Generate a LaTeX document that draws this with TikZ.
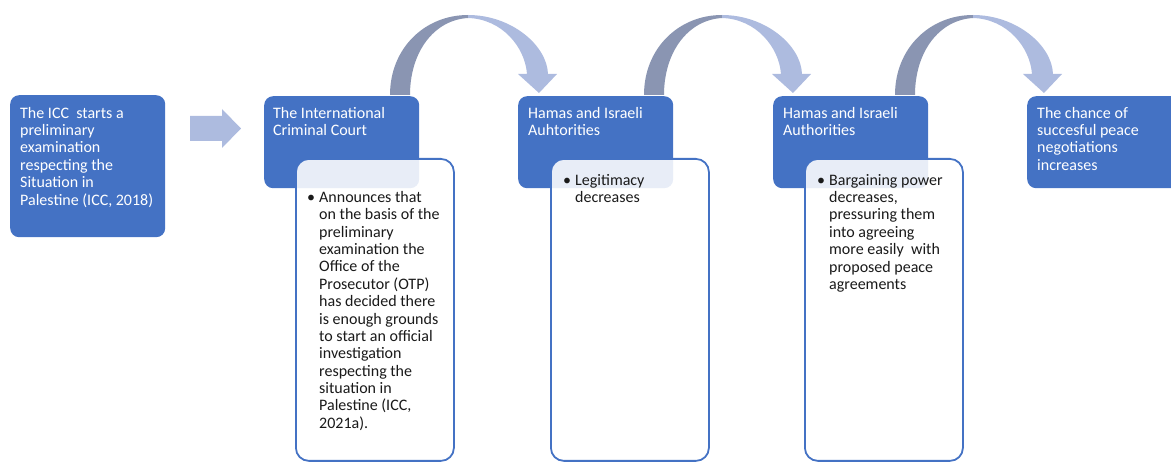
\documentclass[tikz,border=0pt]{standalone}
\usepackage{fontspec}
\setmainfont{Carlito}
\definecolor{boxblue}{HTML}{4472C4}
\definecolor{arrlight}{HTML}{ADBBDF}
\definecolor{arrdark}{HTML}{8A95B2}
\definecolor{bodytext}{HTML}{1A1A1A}
\newcommand{\firstln}{\rule{0pt}{12pt}}
\tikzset{
  hdr/.style={fill=boxblue, draw=none, rounded corners=9pt, anchor=north west,
    minimum width=155pt, minimum height=92pt, inner sep=0pt},
  bodybox/.style={draw=boxblue, line width=1.8pt, fill=white, fill opacity=0.88,
    draw opacity=1, rounded corners=13pt, anchor=north west,
    minimum width=158pt, minimum height=302pt, inner sep=0pt},
  htxt/.style={anchor=north west, align=left, text=white, inner sep=0pt,
    font=\fontsize{16}{17.4}\selectfont},
  btxt/.style={anchor=north west, align=left, text=bodytext, inner sep=0pt,
    font=\fontsize{16}{17.4}\selectfont},
  bul/.style={anchor=north west, text=bodytext, inner sep=0pt,
    font=\fontsize{16}{17.4}\selectfont},
  darkpart/.style={fill=arrdark, draw=none},
  lightpart/.style={fill=arrlight, draw=none},
}
\begin{document}
\begin{tikzpicture}[x=1pt, y=-1pt]
\useasboundingbox (0,0) rectangle (1171,462);

% curved arrows
\foreach \dx in {0,254,505}{
  \begin{scope}[xshift=\dx pt]
    \fill[darkpart] (390,95) .. controls (390,48) and (425,15) .. (468,15)
      -- (468,18) .. controls (434,20) and (410,52) .. (410,95) -- cycle;
    \fill[lightpart] (468,15) .. controls (511,15) and (547,45) .. (548,74)
      -- (557,74) -- (539,93) -- (518,74) -- (527,74)
      .. controls (525,47) and (502,19) .. (468,18) -- cycle;
  \end{scope}
}

% straight block arrow
\fill[arrlight] (190,116) -- (222,116) -- (222,109) -- (241,128.5)
  -- (222,148) -- (222,141) -- (190,141) -- cycle;

% boxes
\node[hdr, minimum height=142pt] (a) at (10,95) {};
\node[hdr] (b) at (264,96) {};
\node[hdr] (c) at (518,96) {};
\node[hdr] (d) at (773,96) {};
\node[hdr] (e) at (1027,96) {};

\node[bodybox] (bb) at (295,158) {};
\node[bodybox] (cb) at (550,158) {};
\node[bodybox] (db) at (804,158) {};

% header texts (first baseline at y=118)
\node[htxt] (at) at (20,106) {\firstln The ICC\ \ starts a\\preliminary\\examination\\respecting the\\Situation in\\Palestine (ICC, 2018)};
\node[htxt] (bt) at (273,106) {\firstln The International\\Criminal Court};
\node[htxt] (ct) at (528,106) {\firstln Hamas and Israeli\\Auhtorities};
\node[htxt] (dt) at (783,106) {\firstln Hamas and Israeli\\Authorities};
\node[htxt] (et) at (1037,106) {\firstln The chance of\\succesful peace\\negotiations\\increases};

% body texts
\node[bul] (bbul) at (307,190) {\firstln •};
\node[btxt] (btx) at (319,190) {\firstln Announces that\\on the basis of the\\preliminary\\examination the\\Office of the\\Prosecutor (OTP)\\has decided there\\is enough grounds\\to start an official\\investigation\\respecting the\\situation in\\Palestine (ICC,\\2021a).};
\node[bul] (cbul) at (563,173) {\firstln •};
\node[btxt] (ctx) at (575,173) {\firstln Legitimacy\\decreases};
\node[bul] (dbul) at (817,173) {\firstln •};
\node[btxt] (dtx) at (829,173) {\firstln Bargaining power\\decreases,\\pressuring them\\into agreeing\\more easily\ \ with\\proposed peace\\agreements};
\end{tikzpicture}
\end{document}
